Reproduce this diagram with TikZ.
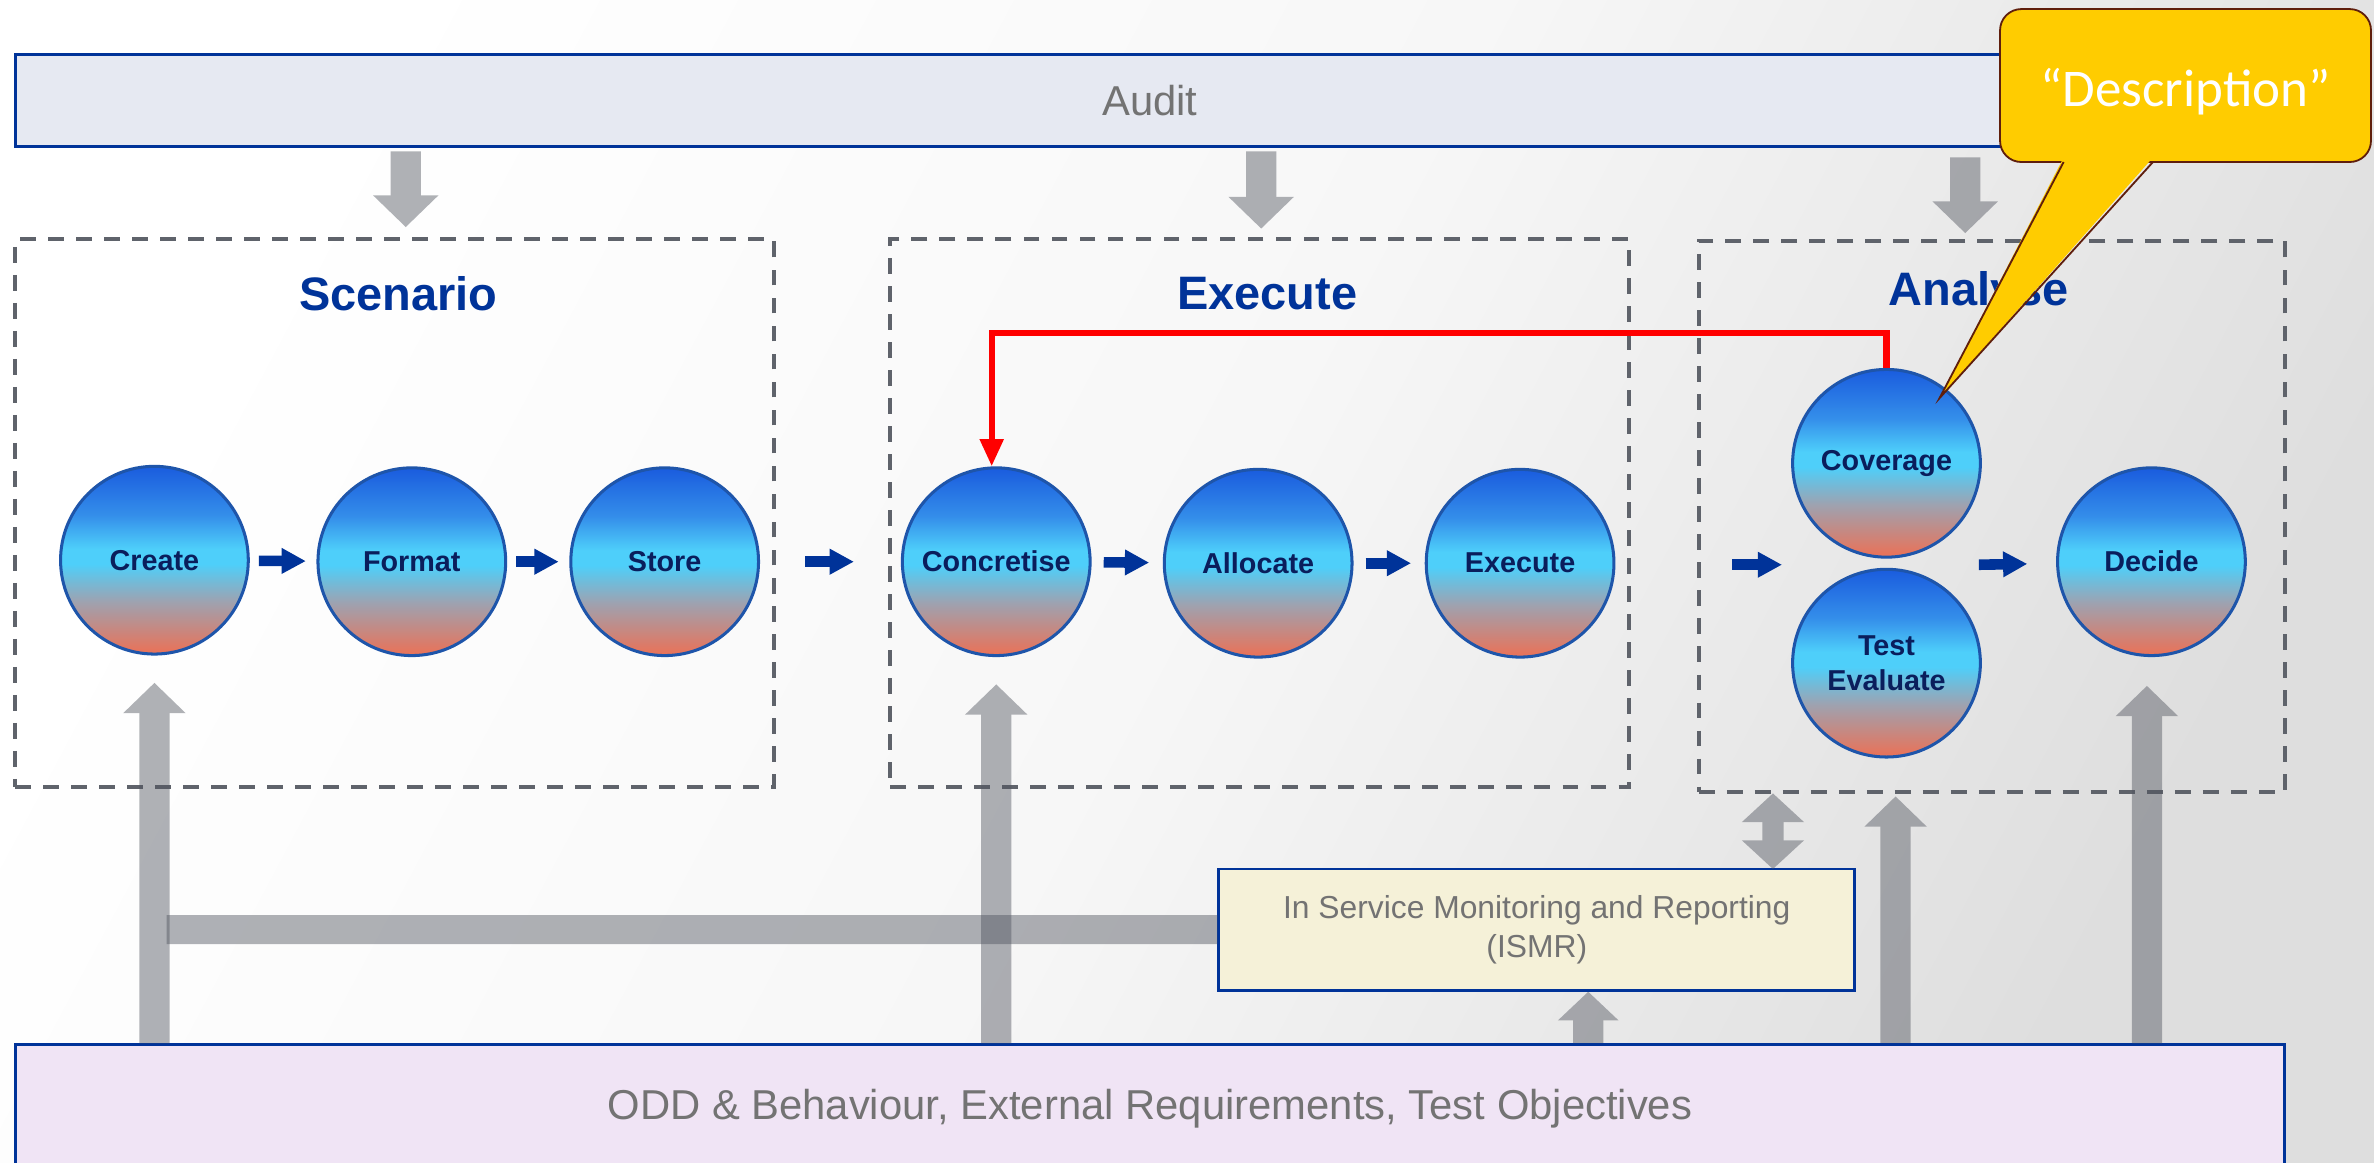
\documentclass[tikz,border=0pt]{standalone}
\usepackage{fontspec}
\setmainfont{Liberation Sans}
\newfontfamily\calfont{Carlito}
\usetikzlibrary{arrows.meta}
\definecolor{navy}{RGB}{0,51,153}
\definecolor{auditfill}{RGB}{230,233,242}
\definecolor{oddfill}{RGB}{240,228,245}
\definecolor{ismrfill}{RGB}{245,241,216}
\definecolor{dashc}{RGB}{95,99,107}
\definecolor{arrowc}{RGB}{80,84,94}
\definecolor{txtgray}{RGB}{115,115,115}
\definecolor{circtxt}{RGB}{10,30,92}
\definecolor{ballborder}{RGB}{30,85,170}
\definecolor{callyellow}{RGB}{255,204,0}
\definecolor{callborder}{RGB}{95,30,12}
\definecolor{bsalm}{RGB}{230,116,92}
\definecolor{bgray}{RGB}{158,162,176}
\definecolor{bcyan}{RGB}{78,207,250}
\definecolor{bmid}{RGB}{52,142,234}
\definecolor{bblue}{RGB}{26,92,222}
\definecolor{bgend}{RGB}{222,222,222}
\definecolor{bgmid}{RGB}{247,247,247}
\pgfdeclareverticalshading{ballshade}{100bp}{color(0bp)=(bsalm); color(26bp)=(bsalm); color(39bp)=(bgray); color(49bp)=(bcyan); color(53bp)=(bcyan); color(62bp)=(bmid); color(75bp)=(bblue); color(100bp)=(bblue)}
\newcommand\tgroup[1]{\begin{scope}[transparency group, opacity=0.45]#1\end{scope}}
\begin{document}
\begin{tikzpicture}[x=1pt,y=-1pt,
  ball/.style={circle, draw=ballborder, line width=2pt, shading=ballshade,
    minimum size=124pt, inner sep=0pt, align=center, text=circtxt,
    font=\fontsize{19}{23.5}\selectfont\bfseries},
  solidbox/.style={rectangle, draw=navy, line width=1.8pt, inner sep=0pt},
  dashbox/.style={rectangle, draw=dashc, line width=2.6pt, dash pattern=on 10.5pt off 8pt, inner sep=0pt},
  title/.style={text=navy, font=\fontsize{31}{36}\selectfont\bfseries},
  bluearr/.style={draw=navy, line width=7pt, -{Triangle[length=16pt,width=16pt]}},
  fatarr/.style={draw=arrowc, line width=20pt, -{Triangle[length=20pt,width=40pt]}},
  fatbar/.style={draw=arrowc, line width=19pt},
  redarr/.style={draw=red, line width=4pt, -{Triangle[length=18pt,width=15pt]}}
]
% background
\useasboundingbox (0,0) rectangle (1568,768);
\shade[left color=white, right color=bgend, middle color=bgmid, shading angle=62] (0,0) rectangle (1568,768);

% top and bottom boxes
\node[solidbox, fill=auditfill, minimum width=1499pt, minimum height=61pt, text=txtgray,
  font=\fontsize{27.6}{33}\selectfont] (audit) at (759.5,66.5) {Audit};
\node[solidbox, fill=oddfill, minimum width=1499pt, minimum height=84pt, text=txtgray,
  font=\fontsize{27.6}{33}\selectfont] (odd) at (759.5,732) {ODD \& Behaviour, External Requirements, Test Objectives};
\node[solidbox, fill=ismrfill, minimum width=420pt, minimum height=80pt, text=txtgray, align=center,
  font=\fontsize{21}{25.5}\selectfont] (ismr) at (1015,614) {In Service Monitoring and Reporting\\(ISMR)};

% dashed groups
\node[dashbox, minimum width=501pt, minimum height=362pt] (scen) at (260.5,339) {};
\node[dashbox, minimum width=488pt, minimum height=362pt] (exe) at (832,339) {};
\node[dashbox, minimum width=387pt, minimum height=364pt] (anl) at (1315.5,341) {};
\node[title] (scenT) at (263,194) {Scenario};
\node[title] (exeT) at (837,194) {Execute};
\node[title] (anlT) at (1307,194) {Analyse};

% process circles
\node[ball] (create) at (102,370) {Create};
\node[ball] (format) at (272,371) {Format};
\node[ball] (store) at (439,371) {Store};
\node[ball] (conc) at (658,371) {Concretise};
\node[ball] (alloc) at (831,372) {Allocate};
\node[ball] (exec) at (1004,372) {Execute};
\node[ball] (cov) at (1246,306) {Coverage};
\node[ball] (teval) at (1246,438) {Test\\Evaluate};
\node[ball] (decide) at (1421,371) {Decide};

% blue flow arrows
\draw[bluearr, shorten <=6pt, shorten >=7pt] (create) -- (format);
\draw[bluearr, shorten <=6pt, shorten >=7pt] (format) -- (store);
\draw[bluearr, shorten <=30pt, shorten >=31pt] (store) -- (conc);
\draw[bluearr, shorten <=8pt, shorten >=9pt] (conc) -- (alloc);
\draw[bluearr, shorten <=8pt, shorten >=9pt] (alloc) -- (exec);
\coordinate (ainA) at (1144,373);
\coordinate (ainB) at (1177,373);
\draw[bluearr] (ainA) -- (ainB);
\coordinate (aoutA) at (1307,373);
\draw[bluearr, shorten >=19pt] (aoutA) -- (decide);

% gray arrows from audit
\coordinate (d1a) at (268,100); \coordinate (d1b) at (268,150);
\coordinate (d2a) at (833,100); \coordinate (d2b) at (833,151);
\coordinate (d3a) at (1298,104); \coordinate (d3b) at (1298,154);
\tgroup{\draw[fatarr, -{Triangle[length=21pt,width=42pt]}] (d1a) -- (d1b);}
\tgroup{\draw[fatarr, -{Triangle[length=21pt,width=42pt]}] (d2a) -- (d2b);}
\tgroup{\draw[fatarr, -{Triangle[length=21pt,width=42pt]}] (d3a) -- (d3b);}

% gray arrows from bottom
\coordinate (barL) at (110,614);
\tgroup{\draw[fatarr] (create |- odd.north) -- ([yshift=-18pt]create.south);}
\tgroup{\draw[fatbar] (barL) -- (ismr.west);}
\tgroup{\draw[fatarr] (conc |- odd.north) -- ([yshift=-18pt]conc.south);}
\coordinate (u3a) at (1252,689); \coordinate (u3b) at (1252,526);
\tgroup{\draw[fatarr] (u3a) -- (u3b);}
\tgroup{\draw[fatarr] ([xshift=-3pt]decide |- odd.north) -- ([xshift=-3pt,yshift=-19pt]decide.south);}
\coordinate (u5a) at (1049,689); \coordinate (u5b) at (1049,655);
\tgroup{\draw[fatarr, -{Triangle[length=19pt,width=39pt]}] (u5a) -- (u5b);}
\coordinate (dbA) at (1171,574); \coordinate (dbB) at (1171,524);
\tgroup{\draw[draw=arrowc, line width=14pt, {Triangle[length=19pt,width=40pt]}-{Triangle[length=19pt,width=40pt]}] (dbA) -- (dbB);}

% red feedback
\draw[redarr] (cov.north) -- (cov.north |- 0,220) -| ([xshift=-3pt]conc.north);

% callout
\node[rectangle, rounded corners=14pt, fill=callyellow, draw=callborder, line width=1.2pt,
  minimum width=245pt, minimum height=101pt, text=white, text height=28pt, text depth=0pt,
  font=\calfont\fontsize{35}{40}\selectfont]
  (callout) at (1443.5,56.5) {“Description”};
\coordinate (tip) at (1281,263);
\coordinate (pA) at (1363,107);
\coordinate (pB) at (1422,107);
\fill[callyellow] ([yshift=3pt]pA) -- (tip) -- ([yshift=3pt]pB) -- cycle;
\draw[callborder, line width=1.2pt, line join=miter] (pA) -- (tip) -- (pB);
\end{tikzpicture}
\end{document}
